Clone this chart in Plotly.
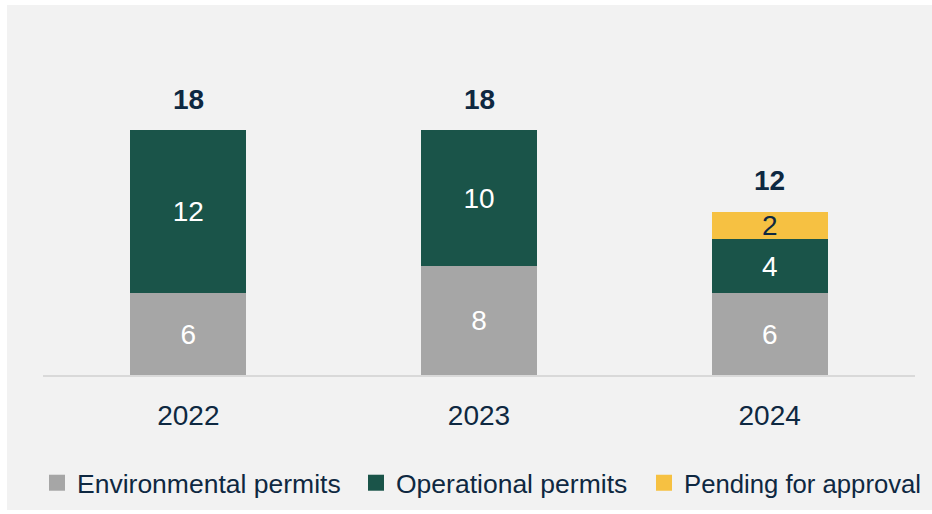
import plotly.graph_objects as go

years = ["2022", "2023", "2024"]
environmental = [6, 8, 6]
operational = [12, 10, 4]
pending = [0, 0, 2]
series_names = ["Environmental permits", "Operational permits", "Pending for approval"]
totals = [e + o + p for e, o, p in zip(environmental, operational, pending)]

GRAY = "#A6A6A6"
GREEN = "#1A5449"
YELLOW = "#F6C142"
NAVY = "#0E2841"
BG = "#F2F2F2"
FONT = "Liberation Sans, Arial, sans-serif"

# plot area in pixels: x 43..915, y 40..375
L, R, T, B = 43, 915, 40, 375
W, H = R - L, B - T

fig = go.Figure()
series = [
    (series_names[0], environmental, GRAY, "white"),
    (series_names[1], operational, GREEN, "white"),
    (series_names[2], pending, YELLOW, NAVY),
]
legend_ids = ["legend", "legend2", "legend3"]
legend_text_px = [77, 396, 684]
legend_font_sizes = [26.5, 26.5, 25.7]

for name, vals, color, tcolor in series:
    fig.add_trace(go.Bar(
        x=years, y=vals, name=name, showlegend=False,
        marker=dict(color=color, line=dict(width=0)),
        text=[str(v) if v else "" for v in vals],
        textposition="inside", insidetextanchor="middle",
        constraintext="none", textangle=0,
        textfont=dict(family=FONT, size=28, color=tcolor),
        hoverinfo="skip",
    ))
# legend entries with larger square swatches, one legend box each
for (name, vals, color, tcolor), lid in zip(series, legend_ids):
    fig.add_trace(go.Scatter(
        x=[years[0]], y=[None], mode="markers", name=name, legend=lid,
        marker=dict(symbol="square", size=17, color=color),
        hoverinfo="skip",
    ))

for i, t in enumerate(totals):
    fig.add_annotation(x=i, y=t, xref="x", yref="y", text=f"<b>{t}</b>",
                       showarrow=False, yshift=31, yanchor="middle",
                       font=dict(family=FONT, size=28, color=NAVY))

# light grey panel behind the chart
fig.add_shape(type="rect", xref="paper", yref="paper",
              x0=(7 - L) / W, x1=(932 - L) / W,
              y0=(B - 510) / H, y1=(B - 5) / H,
              fillcolor=BG, line=dict(width=0), layer="below")

legend_layout = {}
for lid, px, fs in zip(legend_ids, legend_text_px, legend_font_sizes):
    legend_layout[lid] = dict(orientation="h", xanchor="left", yanchor="middle",
                              x=(px - 40 - L) / W, y=(B - 483) / H,
                              font=dict(family=FONT, size=fs, color=NAVY),
                              itemclick=False, itemdoubleclick=False,
                              bgcolor="rgba(0,0,0,0)", itemwidth=30)

fig.update_layout(
    width=932, height=514,
    margin=dict(l=L, r=932 - R, t=T, b=514 - B, autoexpand=False),
    paper_bgcolor="white", plot_bgcolor="rgba(0,0,0,0)",
    barmode="stack", bargap=0.6,
    font=dict(family=FONT, color=NAVY),
    showlegend=True,
    xaxis=dict(type="category", categoryorder="array", categoryarray=years,
               range=[-0.5, len(years) - 0.5],
               showline=True, linecolor="#D9D9D9", linewidth=2,
               ticks="", showgrid=False, zeroline=False,
               tickfont=dict(family=FONT, size=28, color=NAVY),
               ticklabelstandoff=14),
    yaxis=dict(visible=False, range=[0, H / (245 / 18)], showgrid=False, zeroline=False),
    **legend_layout,
)

fig.write_html("out.html", config={"displayModeBar": False},
               post_script="document.body.style.margin='0';")
